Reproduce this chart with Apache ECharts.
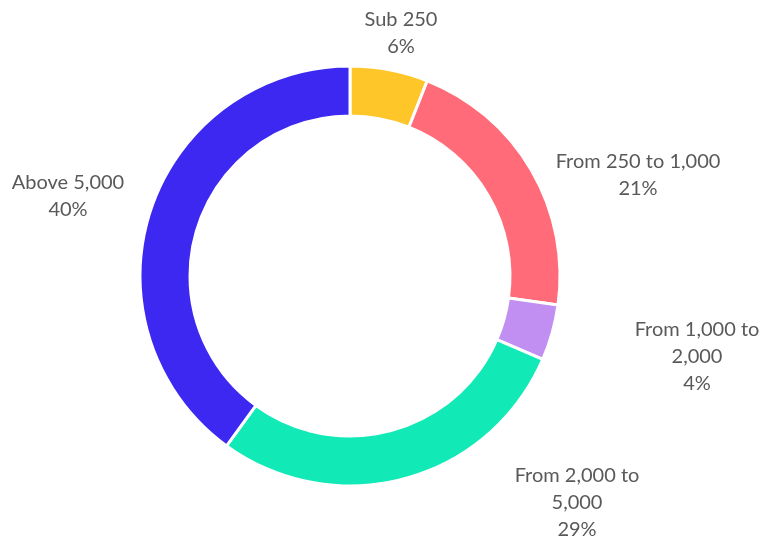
<!DOCTYPE html>
<html>
<head>
<meta charset="utf-8">
<script src="https://cdn.jsdelivr.net/npm/echarts@6/dist/echarts.min.js"></script>
<style>
  html, body { margin: 0; padding: 0; background: #ffffff; }
  #chart-container { width: 763px; height: 537px; }
</style>
</head>
<body>
<div id="chart-container"></div>
<script>
var categories = ['Sub 250', 'From 250 to 1,000', 'From 1,000 to 2,000', 'From 2,000 to 5,000', 'Above 5,000'];
// shares in % (labels show them rounded)
var shares = [6.0, 21.2, 4.3, 28.5, 40.0];
var colors = ['#FFC629', '#FF6B78', '#C18FF2', '#11E9B6', '#3C28F0'];

// where each label sits, relative to the pie centre (Excel-style best fit)
var labelOffsets = [[51, -243], [288, -101], [347, 81], [227, 227], [-282, -80]];

var cx = 350, cy = 276;

var dom = document.getElementById('chart-container');
var myChart = echarts.init(dom, null, { renderer: 'canvas' });

var option = {
  animation: false,
  series: [
    {
      type: 'pie',
      center: [cx, cy],
      radius: [160, 210],
      startAngle: 90,
      clockwise: true,
      avoidLabelOverlap: false,
      data: categories.map(function (name, i) {
        return { name: name, value: shares[i], itemStyle: { color: colors[i] } };
      }),
      itemStyle: {
        borderColor: '#ffffff',
        borderWidth: 3
      },
      label: {
        show: true,
        position: 'outside',
        fontFamily: 'Lato',
        fontSize: 20,
        lineHeight: 27,
        color: '#595959',
        align: 'center',
        formatter: function (p) {
          var name = p.name.length > 17 ? p.name.replace(' to ', ' to\n') : p.name;
          return name + '\n' + Math.round(p.value) + '%';
        }
      },
      labelLine: { show: false },
      labelLayout: function (params) {
        var off = labelOffsets[params.dataIndex];
        return {
          x: cx + off[0],
          y: cy + off[1],
          align: 'center',
          verticalAlign: 'middle'
        };
      },
      emphasis: { disabled: true }
    }
  ]
};

myChart.setOption(option);
window.addEventListener('resize', myChart.resize);
</script>
</body>
</html>
